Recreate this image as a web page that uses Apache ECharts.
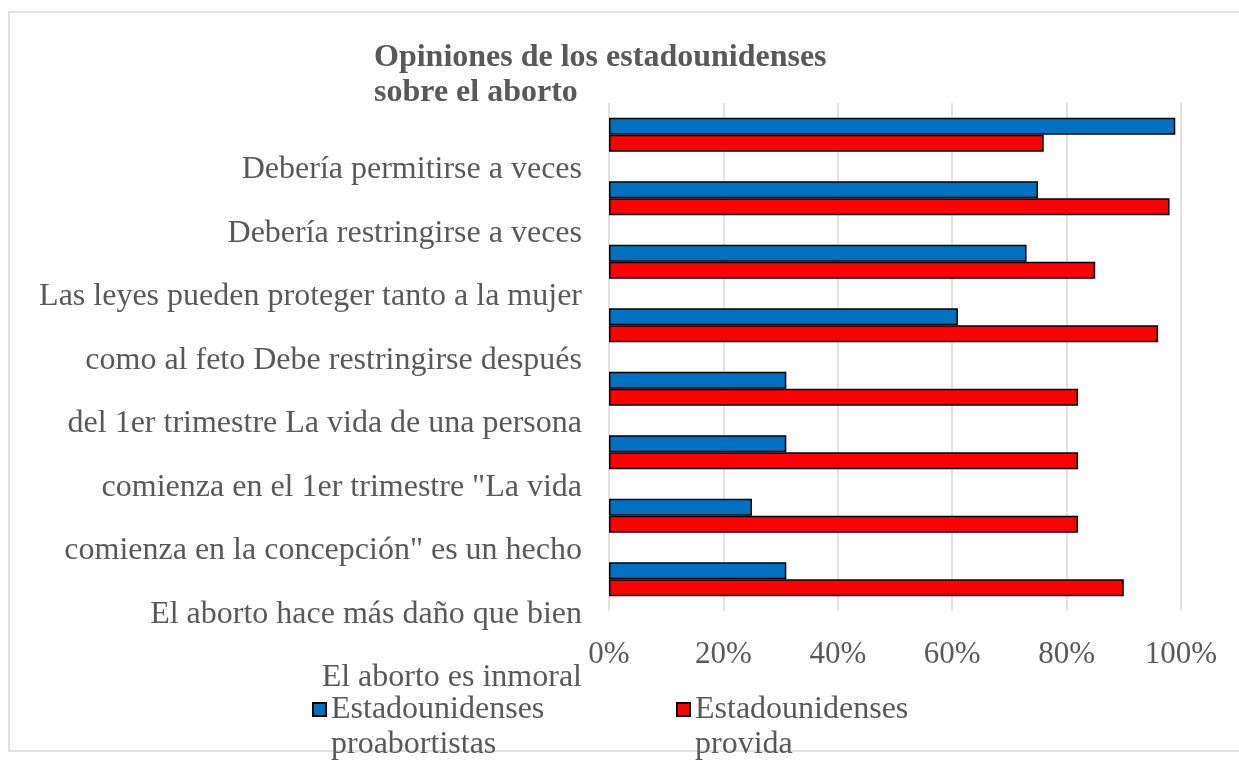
<!DOCTYPE html>
<html>
<head>
<meta charset="utf-8">
<script src="https://cdn.jsdelivr.net/npm/echarts@6/dist/echarts.min.js"></script>
<style>
  html, body { margin: 0; padding: 0; background: #fff; }
  #chart { width: 1239px; height: 760px; }
</style>
</head>
<body>
<div id="chart"></div>
<script>
// categories, top to bottom
const categories = [
    'Debería permitirse a veces',
    'Debería restringirse a veces',
    'Las leyes pueden proteger tanto a la mujer como al feto',
    'Debe restringirse después del 1er trimestre',
    'La vida de una persona comienza en el 1er trimestre',
    '"La vida comienza en la concepción" es un hecho',
    'El aborto hace más daño que bien',
    'El aborto es inmoral'
];
// the wrapped label lines as they appear on the left side
const labelLines = [
    'Debería permitirse a veces',
    'Debería restringirse a veces',
    'Las leyes pueden proteger tanto a la mujer',
    'como al feto Debe restringirse después',
    'del 1er trimestre La vida de una persona',
    'comienza en el 1er trimestre "La vida',
    'comienza en la concepción" es un hecho',
    'El aborto hace más daño que bien',
    'El aborto es inmoral'
];
const proChoice = [99, 75, 73, 61, 31, 31, 25, 31];
const proLife = [76, 98, 85, 96, 82, 82, 82, 90];
const xTicks = [0, 20, 40, 60, 80, 100];

const seriesNames = ['Estadounidenses\nproabortistas', 'Estadounidenses\nprovida'];

const font = '"Liberation Serif", "Times New Roman", serif';
const gray = '#595959';

const chart = echarts.init(document.getElementById('chart'));

const legendText = {
    color: gray,
    fontFamily: font,
    fontSize: 32,
    lineHeight: 35
};
// an empty first line keeps the first real line level with the icon
const legendFormatter = function (name) {
    return '\n' + name;
};

const option = {
    backgroundColor: '#fff',
    animation: false,
    title: {
        text: 'Opiniones de los estadounidenses\nsobre el aborto',
        left: 374,
        top: 40,
        padding: 0,
        textStyle: {
            color: gray,
            fontFamily: font,
            fontWeight: 'bold',
            fontSize: 32,
            lineHeight: 35
        }
    },
    legend: [{
        data: [seriesNames[0]],
        left: 312,
        top: 657,
        padding: 0,
        itemWidth: 13,
        itemHeight: 13,
        icon: 'rect',
        formatter: legendFormatter,
        textStyle: legendText
    }, {
        data: [seriesNames[1]],
        left: 676,
        top: 657,
        padding: 0,
        itemWidth: 13,
        itemHeight: 13,
        icon: 'rect',
        formatter: legendFormatter,
        textStyle: legendText
    }],
    grid: [{
        left: 609,
        right: 58,
        top: 103,
        bottom: 149
    }, {
        left: 609,
        right: 58,
        top: 170,
        bottom: 82
    }],
    xAxis: [{
        gridIndex: 0,
        type: 'value',
        min: xTicks[0],
        max: xTicks[xTicks.length - 1],
        interval: xTicks[1] - xTicks[0],
        axisLine: { show: false },
        axisTick: { show: false },
        splitLine: { lineStyle: { color: '#d9d9d9', width: 1.5 } },
        axisLabel: {
            formatter: '{value}%',
            margin: 28,
            color: gray,
            fontFamily: font,
            fontSize: 31
        }
    }, {
        gridIndex: 1,
        type: 'value',
        show: false
    }],
    yAxis: [{
        gridIndex: 0,
        type: 'category',
        data: categories,
        inverse: true,
        axisLine: { show: false },
        axisTick: { show: false },
        axisLabel: { show: false }
    }, {
        gridIndex: 1,
        type: 'category',
        data: labelLines,
        inverse: true,
        boundaryGap: false,
        axisLine: { show: false },
        axisTick: { show: false },
        splitLine: { show: false },
        axisLabel: {
            margin: 27,
            color: gray,
            fontFamily: font,
            fontSize: 32,
            interval: 0
        }
    }],
    series: [{
        name: seriesNames[0],
        type: 'bar',
        data: proChoice,
        barWidth: 17,
        barGap: '0%',
        itemStyle: { color: '#0070C0', borderColor: '#000', borderWidth: 1.5 }
    }, {
        name: seriesNames[1],
        type: 'bar',
        data: proLife,
        barWidth: 17,
        barGap: '0%',
        itemStyle: { color: '#FF0000', borderColor: '#000', borderWidth: 1.5 }
    }],
    graphic: [{
        type: 'rect',
        z: -10,
        shape: { x: 9, y: 12, width: 1240, height: 739 },
        style: { fill: null, stroke: '#d9d9d9', lineWidth: 1.5 }
    }]
};

chart.setOption(option);
</script>
</body>
</html>
